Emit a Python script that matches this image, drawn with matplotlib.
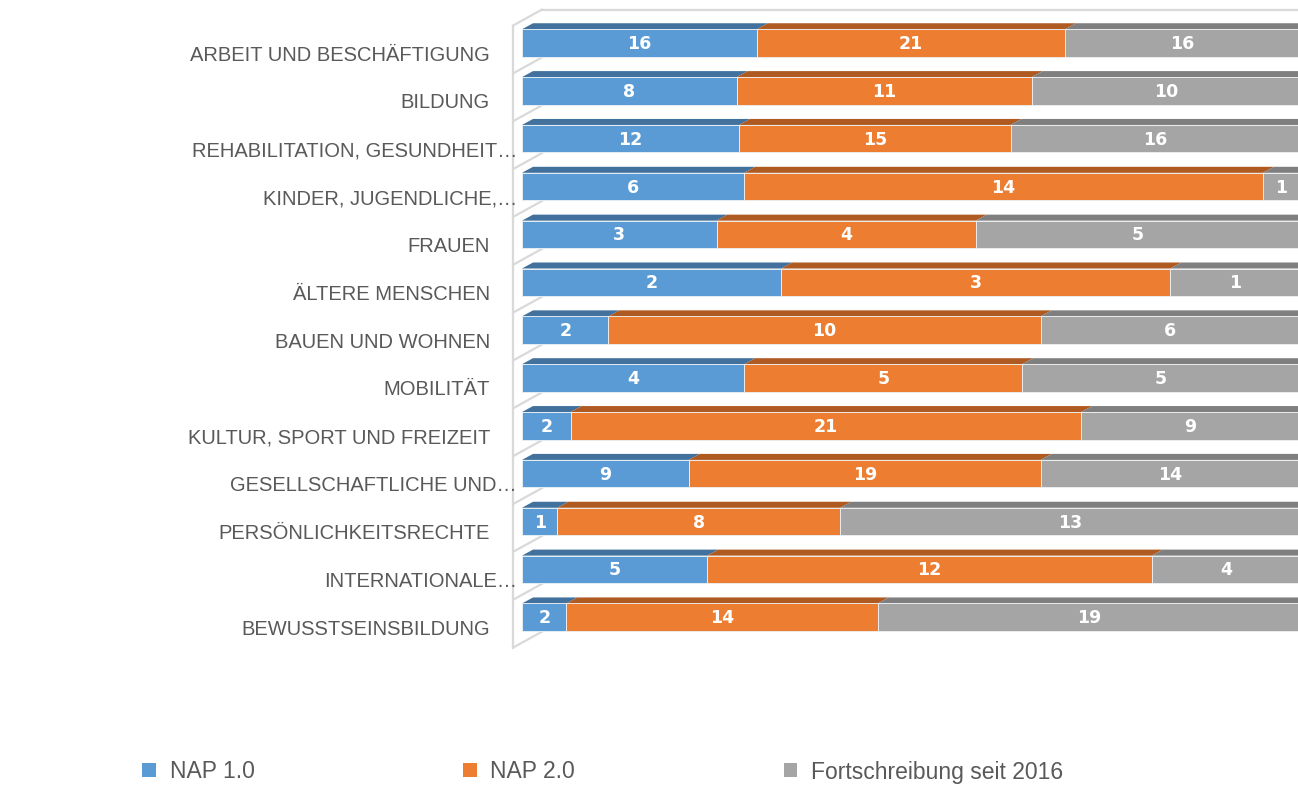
import matplotlib
matplotlib.use("Agg")
import matplotlib.pyplot as plt
from matplotlib.patches import Polygon, Patch
import numpy as np

# --- data ---
categories = [
    "ARBEIT UND BESCHÄFTIGUNG",
    "BILDUNG",
    "REHABILITATION, GESUNDHEIT…",
    "KINDER, JUGENDLICHE,…",
    "FRAUEN",
    "ÄLTERE MENSCHEN",
    "BAUEN UND WOHNEN",
    "MOBILITÄT",
    "KULTUR, SPORT UND FREIZEIT",
    "GESELLSCHAFTLICHE UND…",
    "PERSÖNLICHKEITSRECHTE",
    "INTERNATIONALE…",
    "BEWUSSTSEINSBILDUNG",
]
nap1 = [16, 8, 12, 6, 3, 2, 2, 4, 2, 9, 1, 5, 2]
nap2 = [21, 11, 15, 14, 4, 3, 10, 5, 21, 19, 8, 12, 14]
fort = [16, 10, 16, 1, 5, 1, 6, 5, 9, 14, 13, 4, 19]
series_names = ["NAP 1.0", "NAP 2.0", "Fortschreibung seit 2016"]

front_colors = ["#5B9BD5", "#ED7D31", "#A5A5A5"]
top_colors = ["#41719C", "#AE5A21", "#7F7F7F"]
wall_color = "#D9D9D9"
text_color = "#595959"

W, H = 1298, 787
fig = plt.figure(figsize=(W / 100, H / 100), dpi=100)
ax = fig.add_axes([0, 0, 1, 1])
ax.set_axis_off()

# pixel layout of the plot area (x in percent, y in rows)
x0_px, x100_px = 522, 1300
row0_px, row_step = 43, 47.85
px_per_pct = (x100_px - x0_px) / 100
ax.set_xlim(-x0_px / px_per_pct, (W - x0_px) / px_per_pct)
ax.set_ylim((H - row0_px) / row_step, -row0_px / row_step)


def px_x(p):
    return p / px_per_pct


def px_y(p):
    return p / row_step


n = len(categories)
y = np.arange(n)
data = np.array([nap1, nap2, fort], dtype=float)
shares = data / data.sum(axis=0) * 100
lefts = np.vstack([np.zeros(n), np.cumsum(shares, axis=0)[:-1]])

# --- 3D side wall / floor lines ---
x_wall = px_x(513 - x0_px)
wall_dx, wall_dy = px_x(29), px_y(16)
edges = np.arange(n + 1) - 0.5 + px_y(6.5)
ax.plot([x_wall, x_wall], [edges[0], edges[-1]], color=wall_color, lw=1.6, zorder=1)
for e in edges:
    ax.plot([x_wall, x_wall + wall_dx], [e, e - wall_dy], color=wall_color, lw=1.6, zorder=1)
ax.plot([x_wall + wall_dx, 110], [edges[0] - wall_dy] * 2, color=wall_color, lw=1.6, zorder=1)

# --- bars ---
bar_h = px_y(27.5)
top_dx, top_dy = px_x(11), px_y(6)
for k in range(3):
    ax.barh(y, shares[k], left=lefts[k], height=bar_h, color=front_colors[k],
            edgecolor="#EEF2F6", linewidth=0.6, zorder=3)
    for i in range(n):
        xa = lefts[k][i]
        xb = xa + shares[k][i]
        yt = i - bar_h / 2
        ax.add_patch(Polygon(
            [(xa, yt), (xb, yt), (xb + top_dx, yt - top_dy), (xa + top_dx, yt - top_dy)],
            closed=True, facecolor=top_colors[k], edgecolor="none", zorder=2,
        ))
        ax.text(xa + shares[k][i] / 2, i + px_y(1), f"{int(data[k][i])}",
                ha="center", va="center", color="white", fontsize=12.5,
                fontweight="bold", family="DejaVu Sans", zorder=4)

# --- category labels ---
for i, cat in enumerate(categories):
    x_lab = px_x(517 - x0_px) if cat.endswith("…") else px_x(490 - x0_px)
    ax.text(x_lab, i + px_y(12), cat, ha="right", va="center", color=text_color,
            fontsize=14.5, family="Liberation Sans")

# --- legend ---
handles = [Patch(facecolor=c, edgecolor="none") for c in front_colors]
fig.legend(handles, series_names, loc="center left",
           bbox_to_anchor=(142 / W, (H - 772) / H), ncol=3, frameon=False,
           prop={"family": "Liberation Sans", "size": 16.5}, labelcolor=text_color,
           handlelength=0.6, handleheight=0.55, handletextpad=0.6,
           columnspacing=9.1, borderpad=0, borderaxespad=0)

fig.savefig("out.png", dpi=100)
plt.close(fig)
